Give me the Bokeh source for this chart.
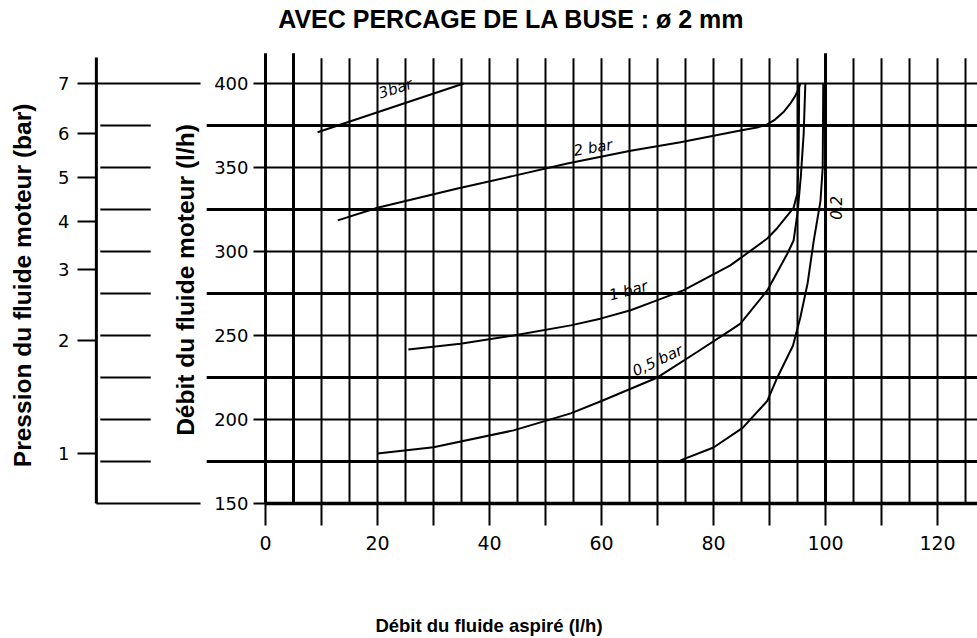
import math
from bokeh.plotting import figure
from bokeh.models import LinearAxis, FixedTicker, Range1d, Label
from bokeh.core.properties import value
from bokeh.embed import file_html
from bokeh.resources import INLINE

# ---- data ----
x_major_ticks = [0, 20, 40, 60, 80, 100, 120]
x_minor_ticks = [10, 30, 50, 70, 90, 110]
q_ticks = [150, 200, 250, 300, 350, 400]
pressure_labels = ["1", "2", "3", "4", "5", "6", "7"]
pressure_q = [180, 247, 289, 318, 344, 370, 400]

grid_x_thin = [10, 15, 20, 25, 30, 35, 40, 45, 50, 55, 60, 65, 70, 75, 80, 85, 90, 95,
               105, 110, 115, 120, 125]
grid_x_thick = [0, 5, 100]
grid_q_thin = [200, 250, 300, 350, 400]
grid_q_thick = [175, 225, 275, 325, 375]
side_marks_q = [175, 200, 225, 250, 275, 300, 325, 350, 375]

curve_3bar_x = [9.3, 35.4]
curve_3bar_q = [371, 400]

curve_2bar_x = [12.9, 20, 34.3, 44.3, 53.9, 65.2, 74.1, 84.8, 88.0, 89.5, 91.0, 92.5, 93.6, 94.5, 95.1, 95.5]
curve_2bar_q = [318.5, 326, 337.5, 345, 352.4, 360, 365, 372, 374, 375.5, 378.5, 383, 387.5, 392, 396, 400]

curve_1bar_x = [25.5, 34.8, 44.3, 54.5, 59.8, 65.2, 70.0, 74.6, 83.0, 84.8, 89.6, 91.4, 94.3, 95.0, 95.2, 95.3]
curve_1bar_q = [241.7, 245, 250, 256, 260, 265, 271, 276.8, 291.7, 296, 307.7, 314, 326, 335, 360, 400]

curve_05bar_x = [20, 30, 44.3, 54.5, 60, 70, 77, 83, 84.8, 89.6, 93.2, 94.3, 95.0, 95.6, 96.1, 96.4]
curve_05bar_q = [179.8, 183.5, 193.5, 203.6, 211, 225, 240, 253, 257, 276.8, 298.8, 306.5, 323, 345, 370, 400]

curve_02bar_x = [74.1, 80, 85.2, 89.6, 91.4, 94.2, 95.5, 96.8, 97.9, 99.1, 99.5, 99.6]
curve_02bar_q = [175.6, 183.3, 195, 211, 225, 244, 260.7, 281, 306.5, 330, 350, 400]

label_text = ["3bar", "2  bar", "1  bar", "0,5 bar", "0,2"]
label_x = [23.2, 58.9, 65.2, 70.0, 101.8]
label_q = [397, 362, 277, 235, 326]
label_angle = [0.31, 0.17, 0.26, 0.44, 1.5708]

title_text = "AVEC PERCAGE DE LA BUSE : ø 2 mm"

# ---- figure ----
p = figure(width=977, height=638, output_backend="svg", toolbar_location=None,
           x_axis_type=None, y_axis_type=None,
           x_range=Range1d(-47.32, 127.14), y_range=Range1d(69.6, 449.4),
           min_border_left=0, min_border_right=0, min_border_top=0, min_border_bottom=0)
p.outline_line_color = None
p.background_fill_color = "white"
p.border_fill_color = "white"

# title
p.add_layout(Label(x=43.9, y=438.1, text=title_text, text_align="center", text_baseline="middle",
                   text_font="Liberation Sans", text_font_size="25px", text_font_style="bold",
                   text_color="black"))

# grid
n = len(grid_x_thin)
p.segment(x0=grid_x_thin, y0=[150] * n, x1=grid_x_thin, y1=[415] * n, line_color="black", line_width=2)
n = len(grid_x_thick)
p.segment(x0=grid_x_thick, y0=[150] * n, x1=grid_x_thick, y1=[418] * n, line_color="black", line_width=3)
n = len(grid_q_thin)
p.segment(x0=[0] * n, y0=grid_q_thin, x1=[130] * n, y1=grid_q_thin, line_color="black", line_width=2)
n = len(grid_q_thick)
p.segment(x0=[-10.5] * n, y0=grid_q_thick, x1=[130] * n, y1=grid_q_thick, line_color="black", line_width=3)
# pressure scale: vertical line, short marks, and the 400 / 150 lines
p.segment(x0=[-30.2], y0=[150], x1=[-30.2], y1=[415.5], line_color="black", line_width=3)
n = len(side_marks_q)
p.segment(x0=[-29.5] * n, y0=side_marks_q, x1=[-20.5] * n, y1=side_marks_q, line_color="black", line_width=2)
p.segment(x0=[-30.2, -30.2], y0=[400, 150], x1=[-11.6, -11.6], y1=[400, 150], line_color="black", line_width=2)
# bottom frame line
p.segment(x0=[0], y0=[150], x1=[130], y1=[150], line_color="black", line_width=3.5)

# curves
for cx, cq in [(curve_3bar_x, curve_3bar_q), (curve_2bar_x, curve_2bar_q),
               (curve_1bar_x, curve_1bar_q), (curve_05bar_x, curve_05bar_q),
               (curve_02bar_x, curve_02bar_q)]:
    p.line(cx, cq, line_color="black", line_width=2)

p.text(x=label_x, y=label_q, text=label_text, angle=label_angle,
       text_font=value("DejaVu Sans"), text_font_style="italic", text_font_size="15px",
       text_align="center", text_baseline="middle", text_color="black")

# axes
bottom = LinearAxis(fixed_location=150, ticker=FixedTicker(ticks=x_major_ticks, minor_ticks=x_minor_ticks))
bottom.axis_line_color = None
bottom.major_tick_out = 22
bottom.major_tick_in = 0
bottom.minor_tick_out = 22
bottom.minor_tick_in = 0
bottom.major_tick_line_width = 2
bottom.minor_tick_line_width = 2
bottom.major_label_standoff = 11
bottom.major_label_text_font = "DejaVu Sans"
bottom.major_label_text_font_size = "19px"
bottom.major_label_text_color = "black"
bottom.axis_label = "Débit du fluide aspiré (l/h)"
bottom.axis_label_standoff = 61
bottom.axis_label_text_font = "Liberation Sans"
bottom.axis_label_text_font_size = "18.5px"
bottom.axis_label_text_font_style = "bold"
bottom.axis_label_text_color = "black"
p.add_layout(bottom, "below")

qaxis = LinearAxis(fixed_location=0, ticker=FixedTicker(ticks=q_ticks))
qaxis.axis_line_color = None
qaxis.major_tick_out = 12
qaxis.major_tick_in = 0
qaxis.major_tick_line_width = 2
qaxis.major_label_standoff = 5
qaxis.major_label_text_font = "DejaVu Sans"
qaxis.major_label_text_font_size = "18px"
qaxis.major_label_text_color = "black"
p.add_layout(qaxis, "left")

paxis = LinearAxis(fixed_location=-30.2, ticker=FixedTicker(ticks=pressure_q),
                   major_label_overrides={q: lab for q, lab in zip(pressure_q, pressure_labels)})
paxis.axis_line_color = None
paxis.major_tick_out = 19
paxis.major_tick_in = 0
paxis.major_tick_line_width = 2
paxis.major_label_standoff = 8
paxis.major_label_text_font = "DejaVu Sans"
paxis.major_label_text_font_size = "18px"
paxis.major_label_text_color = "black"
p.add_layout(paxis, "left")

# vertical axis titles
p.add_layout(Label(x=-43.4, y=279.8, text="Pression du fluide moteur (bar)", angle=math.pi / 2,
                   text_align="center", text_baseline="middle", text_font="Liberation Sans",
                   text_font_size="24.5px", text_font_style="bold", text_color="black"))
p.add_layout(Label(x=-14.3, y=283, text="Débit du fluide moteur (l/h)", angle=math.pi / 2,
                   text_align="center", text_baseline="middle", text_font="Liberation Sans",
                   text_font_size="24.5px", text_font_style="bold", text_color="black"))

open("out.html", "w").write(file_html(p, INLINE))
